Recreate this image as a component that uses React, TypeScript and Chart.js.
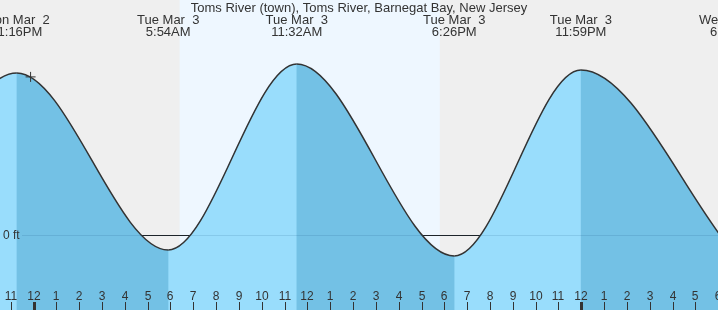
import { useEffect, useRef } from 'react';
import { Chart, registerables } from 'chart.js';

Chart.register(...registerables);

const TITLE = 'Toms River (town), Toms River, Barnegat Bay, New Jersey';

// hours relative to Tue Mar 3, 00:00
const eventHours = [-6.6, -0.733, 5.9, 11.533, 18.433, 23.983, 30.62];
const eventHeights = [-0.05, 0.54, -0.05, 0.57, -0.07, 0.55, -0.054];
const eventDays = ['Mon Mar  2', 'Mon Mar  2', 'Tue Mar  3', 'Tue Mar  3', 'Tue Mar  3', 'Tue Mar  3', 'Wed Mar  4'];
const eventTimes = ['5:22PM', '11:16PM', '5:54AM', '11:32AM', '6:26PM', '11:59PM', '6:37AM'];

const markerHours = [-0.13];
const markerHeights = [0.527];

const sunriseHour = 6.4;
const sunsetHour = 17.8;

const hourTickValues = [-1, 0, 1, 2, 3, 4, 5, 6, 7, 8, 9, 10, 11, 12, 13, 14, 15, 16, 17, 18, 19, 20, 21, 22, 23, 24, 25, 26, 27, 28, 29, 30];
const hourTickLabels = ['11', '12', '1', '2', '3', '4', '5', '6', '7', '8', '9', '10', '11', '12', '1', '2', '3', '4', '5', '6', '7', '8', '9', '10', '11', '12', '1', '2', '3', '4', '5', '6'];
const midnightHours = [0, 24];

const X_MIN = -1.47;
const X_MAX = 29.99;
const Y_MIN = -0.25;
const Y_MAX = 0.7833;

const FONT = '"Liberation Sans", Arial, sans-serif';
const TEXT = '#333333';
const LIGHT = '#99ddfc';
const DARK = '#73c1e5';

export default function App() {
  const ref = useRef<HTMLCanvasElement | null>(null);

  useEffect(() => {
    const canvas = ref.current;
    if (!canvas) return;

    const backdrop = {
      id: 'backdrop',
      beforeDatasetsDraw(chart: any) {
        const { ctx, chartArea: a, scales } = chart;
        const x = scales.x;
        const y = scales.y;
        ctx.save();
        ctx.fillStyle = '#efefef';
        ctx.fillRect(a.left, a.top, a.right - a.left, a.bottom - a.top);
        const x0 = x.getPixelForValue(sunriseHour);
        const x1 = x.getPixelForValue(sunsetHour);
        ctx.fillStyle = '#eef7ff';
        ctx.fillRect(x0, a.top, x1 - x0, a.bottom - a.top);
        const zy = Math.round(y.getPixelForValue(0)) + 0.5;
        ctx.strokeStyle = '#222';
        ctx.lineWidth = 1;
        ctx.beginPath();
        ctx.moveTo(22, zy);
        ctx.lineTo(a.right, zy);
        ctx.stroke();
        ctx.restore();
      },
      afterDatasetsDraw(chart: any) {
        const { ctx, chartArea: a, scales } = chart;
        const x = scales.x;
        const y = scales.y;
        ctx.save();
        const zy = Math.round(y.getPixelForValue(0)) + 0.5;
        ctx.strokeStyle = 'rgba(0,60,110,0.12)';
        ctx.lineWidth = 1;
        ctx.beginPath();
        ctx.moveTo(22, zy);
        ctx.lineTo(a.right, zy);
        ctx.stroke();

        ctx.fillStyle = TEXT;
        ctx.font = '12px ' + FONT;
        ctx.textAlign = 'left';
        ctx.textBaseline = 'middle';
        ctx.fillText('0 ft', 3, zy);

        // hour labels and ticks
        ctx.textAlign = 'center';
        ctx.textBaseline = 'alphabetic';
        ctx.font = '12px ' + FONT;
        hourTickValues.forEach((h, i) => {
          const px = Math.round(x.getPixelForValue(h));
          ctx.fillText(hourTickLabels[i], px, 300);
          const thick = midnightHours.includes(h);
          if (thick) {
            ctx.fillRect(px - 1, 302, 3, a.bottom - 302);
          } else {
            ctx.fillRect(px, 302, 1, a.bottom - 302);
          }
        });

        // title
        ctx.font = '13px ' + FONT;
        ctx.fillText(TITLE, (a.left + a.right) / 2, 12);

        // event labels
        eventHours.forEach((h, i) => {
          const px = x.getPixelForValue(h);
          ctx.fillText(eventDays[i], px, 24);
          ctx.fillText(eventTimes[i], px, 36);
        });
        ctx.restore();
      },
    };

    const tidePoints = eventHours.map((h, i) => ({ x: h, y: eventHeights[i] }));

    const chart = new Chart(canvas, {
      type: 'line',
      data: {
        datasets: [
          {
            data: markerHours.map((h, i) => ({ x: h, y: markerHeights[i] })),
            showLine: false,
            pointStyle: 'cross',
            pointRadius: 5,
            borderColor: '#333333',
            borderWidth: 1,
            fill: false,
            order: 0,
          },
          {
            data: tidePoints,
            borderColor: '#333333',
            borderWidth: 1.5,
            pointRadius: 0,
            cubicInterpolationMode: 'monotone',
            fill: 'start',
            backgroundColor: LIGHT,
            segment: {
              backgroundColor: (c: any) => (c.p1.parsed.y > c.p0.parsed.y ? LIGHT : DARK),
            },
            order: 1,
          },
          {
            data: tidePoints,
            borderWidth: 0,
            borderColor: 'rgba(0,0,0,0)',
            pointRadius: 0,
            cubicInterpolationMode: 'monotone',
            fill: 'start',
            backgroundColor: DARK,
            order: 2,
          },
        ],
      },
      options: {
        animation: false,
        responsive: false,
        maintainAspectRatio: false,
        layout: { padding: 0, autoPadding: false },
        plugins: { legend: { display: false }, tooltip: { enabled: false }, title: { display: false } },
        scales: {
          x: { type: 'linear', display: false, min: X_MIN, max: X_MAX },
          y: { type: 'linear', display: false, min: Y_MIN, max: Y_MAX },
        },
      },
      plugins: [backdrop],
    } as any);

    return () => chart.destroy();
  }, []);

  return (
    <div style={{ position: 'fixed', left: 0, top: 0, width: 718, height: 310 }}>
      <canvas ref={ref} width={718} height={310} style={{ display: 'block', width: 718, height: 310 }} />
    </div>
  );
}
